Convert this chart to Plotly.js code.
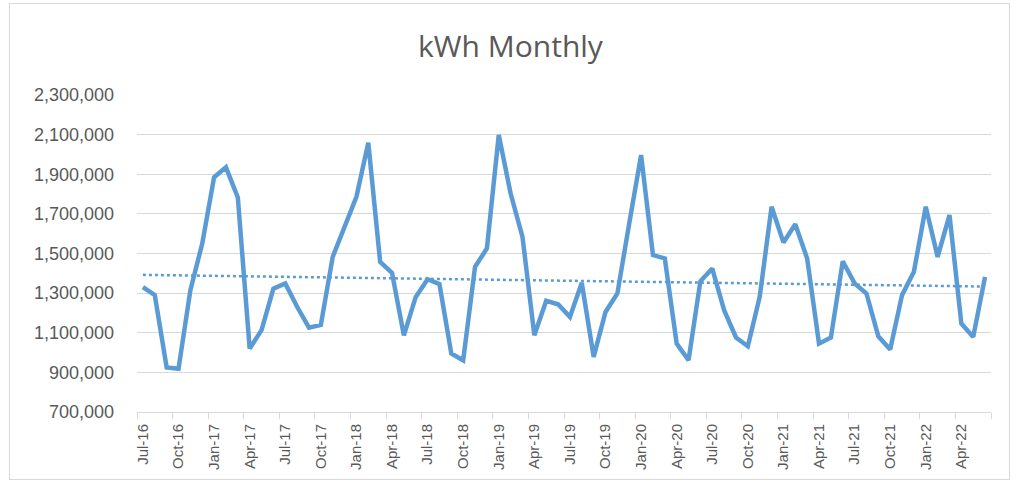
<!DOCTYPE html>
<html>
<head>
<meta charset="utf-8">
<script src="https://cdn.plot.ly/plotly-3.0.1.min.js"></script>
<style>
  html, body { margin: 0; padding: 0; background: #ffffff; }
  #frame { position: absolute; left: 9px; top: 3px; width: 1001px; height: 477px; border: 1px solid #d9d9d9; box-sizing: border-box; }
  #chart { position: absolute; left: 0; top: 0; width: 1021px; height: 491px; }
</style>
</head>
<body>
<div id="frame"></div>
<div id="chart"></div>
<script>
const months = [
  'Jul-16','Aug-16','Sep-16','Oct-16','Nov-16','Dec-16',
  'Jan-17','Feb-17','Mar-17','Apr-17','May-17','Jun-17',
  'Jul-17','Aug-17','Sep-17','Oct-17','Nov-17','Dec-17',
  'Jan-18','Feb-18','Mar-18','Apr-18','May-18','Jun-18',
  'Jul-18','Aug-18','Sep-18','Oct-18','Nov-18','Dec-18',
  'Jan-19','Feb-19','Mar-19','Apr-19','May-19','Jun-19',
  'Jul-19','Aug-19','Sep-19','Oct-19','Nov-19','Dec-19',
  'Jan-20','Feb-20','Mar-20','Apr-20','May-20','Jun-20',
  'Jul-20','Aug-20','Sep-20','Oct-20','Nov-20','Dec-20',
  'Jan-21','Feb-21','Mar-21','Apr-21','May-21','Jun-21',
  'Jul-21','Aug-21','Sep-21','Oct-21','Nov-21','Dec-21',
  'Jan-22','Feb-22','Mar-22','Apr-22','May-22','Jun-22'
];

const kwh = [
  1330000, 1290000, 925000, 918000, 1315000, 1550000,
  1885000, 1935000, 1783000, 1020000, 1113000, 1323000,
  1349000, 1231000, 1126000, 1140000, 1483000, 1635000,
  1786000, 2059000, 1458000, 1402000, 1087000, 1281000,
  1370000, 1345000, 995000, 961000, 1433000, 1525000,
  2098000, 1803000, 1584000, 1087000, 1261000, 1244000,
  1180000, 1352000, 978000, 1205000, 1298000, 1652000,
  1997000, 1492000, 1475000, 1045000, 961000, 1360000,
  1424000, 1214000, 1076000, 1032000, 1281000, 1736000,
  1556000, 1648000, 1475000, 1045000, 1076000, 1461000,
  1349000, 1298000, 1082000, 1015000, 1290000, 1408000,
  1736000, 1483000, 1694000, 1147000, 1079000, 1382000
];

const tickLabels = [
  'Jul-16','Oct-16','Jan-17','Apr-17','Jul-17','Oct-17','Jan-18','Apr-18',
  'Jul-18','Oct-18','Jan-19','Apr-19','Jul-19','Oct-19','Jan-20','Apr-20',
  'Jul-20','Oct-20','Jan-21','Apr-21','Jul-21','Oct-21','Jan-22','Apr-22'
];

const yTicks = [700000, 900000, 1100000, 1300000, 1500000, 1700000, 1900000, 2100000, 2300000];

// positions derived from data
const xIdx = months.map((m, i) => i);
const tickPos = tickLabels.map(l => months.indexOf(l));
const boundaryPos = tickPos.map(p => p - 0.5).concat([months.length - 0.5]);

// linear least-squares trendline from the series
const n = kwh.length;
let sx = 0, sy = 0, sxx = 0, sxy = 0;
for (let i = 0; i < n; i++) { sx += i; sy += kwh[i]; sxx += i * i; sxy += i * kwh[i]; }
const slope = (n * sxy - sx * sy) / (n * sxx - sx * sx);
const intercept = (sy - slope * sx) / n;
const trendX = [0, n - 1];
const trendY = trendX.map(x => intercept + slope * x);

const blue = '#5b9bd5';
const grey = '#595959';
const gridc = '#d9d9d9';
const font = 'Liberation Sans, Arial, sans-serif';

const traces = [
  {
    x: xIdx, y: kwh, type: 'scatter', mode: 'lines',
    line: { color: blue, width: 4.5 },
    hoverinfo: 'skip', xaxis: 'x', yaxis: 'y'
  },
  {
    x: trendX, y: trendY, type: 'scatter', mode: 'lines',
    line: { color: blue, width: 2.5, dash: 'dot' },
    hoverinfo: 'skip', xaxis: 'x2', yaxis: 'y'
  }
];

const xr = [-0.5, months.length - 0.5];

const layout = {
  width: 1021, height: 491,
  paper_bgcolor: 'rgba(0,0,0,0)', plot_bgcolor: 'rgba(0,0,0,0)',
  showlegend: false,
  margin: { l: 137, r: 30, t: 95, b: 79 },
  title: {
    text: 'kWh Monthly',
    font: { family: 'Open Sans, sans-serif', size: 30, color: grey },
    x: 0.5, xanchor: 'center', y: 0.905, yanchor: 'middle'
  },
  xaxis: {
    type: 'linear', range: xr,
    tickvals: tickPos, ticktext: tickLabels,
    tickangle: -90, ticks: '', showgrid: false, zeroline: false,
    showline: true, linecolor: gridc, linewidth: 1,
    tickfont: { family: font, size: 15, color: grey },
    ticklabelstandoff: 5,
    fixedrange: true
  },
  xaxis2: {
    type: 'linear', range: xr, overlaying: 'x',
    tickvals: boundaryPos, ticks: 'outside', ticklen: 6, tickcolor: gridc, tickwidth: 1,
    showticklabels: false, showgrid: false, zeroline: false, showline: false,
    fixedrange: true
  },
  yaxis: {
    range: [700000, 2300000],
    tickvals: yTicks, tickformat: ',d',
    showgrid: true, gridcolor: gridc, gridwidth: 1,
    zeroline: false, showline: false, ticks: '',
    tickfont: { family: font, size: 18, color: grey },
    ticklabelstandoff: 22,
    fixedrange: true
  }
};

Plotly.newPlot('chart', traces, layout, { staticPlot: true, displayModeBar: false });
</script>
</body>
</html>
